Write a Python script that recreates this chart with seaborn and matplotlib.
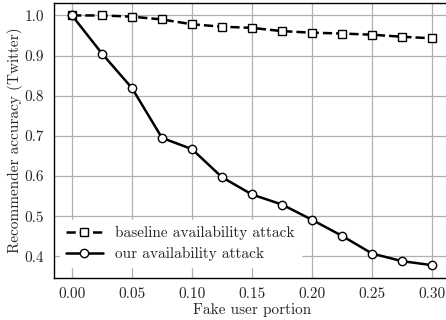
import numpy as np
import pandas as pd
import seaborn as sns
import matplotlib.pyplot as plt

# data
portion = [0.0, 0.025, 0.05, 0.075, 0.10, 0.125, 0.15, 0.175, 0.20, 0.225, 0.25, 0.275, 0.30]
baseline = [1.0, 1.0, 0.997, 0.99, 0.978, 0.972, 0.969, 0.961, 0.957, 0.955, 0.952, 0.947, 0.943]
ours = [1.0, 0.905, 0.819, 0.695, 0.667, 0.597, 0.554, 0.529, 0.491, 0.451, 0.407, 0.388, 0.378]

sns.set_style("whitegrid")
plt.rcParams['font.family'] = 'cmr10'
plt.rcParams['mathtext.fontset'] = 'cm'
plt.rcParams['axes.formatter.use_mathtext'] = True

df = pd.DataFrame({
    'portion': portion * 2,
    'acc': baseline + ours,
    'method': ['baseline availability attack'] * len(portion) + ['our availability attack'] * len(portion),
})

fig = plt.figure(figsize=(4.46, 3.2), dpi=100)
ax = fig.add_axes([54 / 446, 1 - 278 / 320, 396 / 446, 275 / 320])

sns.lineplot(data=df, x='portion', y='acc', style='method', ax=ax, color='black',
             markers={'baseline availability attack': 's', 'our availability attack': 'o'},
             dashes={'baseline availability attack': (3.7, 1.6), 'our availability attack': ''},
             linewidth=1.8, markersize=6, markerfacecolor='white', markeredgecolor='black',
             markeredgewidth=1.0)

ax.set_xlabel('Fake user portion', fontsize=11, labelpad=1)
ax.set_ylabel('Recommender accuracy (Twitter)', fontsize=11, labelpad=1)
ax.tick_params(labelsize=11, pad=3.5)
ax.set_xticks([0.0, 0.05, 0.10, 0.15, 0.20, 0.25, 0.30])
ax.set_xticklabels(['0.00', '0.05', '0.10', '0.15', '0.20', '0.25', '0.30'])
ax.set_yticks([0.4, 0.5, 0.6, 0.7, 0.8, 0.9, 1.0])
ax.set_yticklabels(['0.4', '0.5', '0.6', '0.7', '0.8', '0.9', '1.0'])
ax.set_xlim(-0.015, 0.315)
ax.set_ylim(0.346, 1.031)
ax.grid(color='#b0b0b0', linewidth=0.9)
for s in ax.spines.values():
    s.set_color('black')
    s.set_linewidth(1.0)

leg = ax.legend(loc='lower left', bbox_to_anchor=(-0.012, 0.0), fontsize=11, frameon=True,
                framealpha=1.0, edgecolor='white', facecolor='white', fancybox=False,
                handlelength=2.4, borderaxespad=0.7, labelspacing=0.45)
leg.set_title(None)
leg.set_zorder(1)

fig.savefig('out.png', dpi=100)
